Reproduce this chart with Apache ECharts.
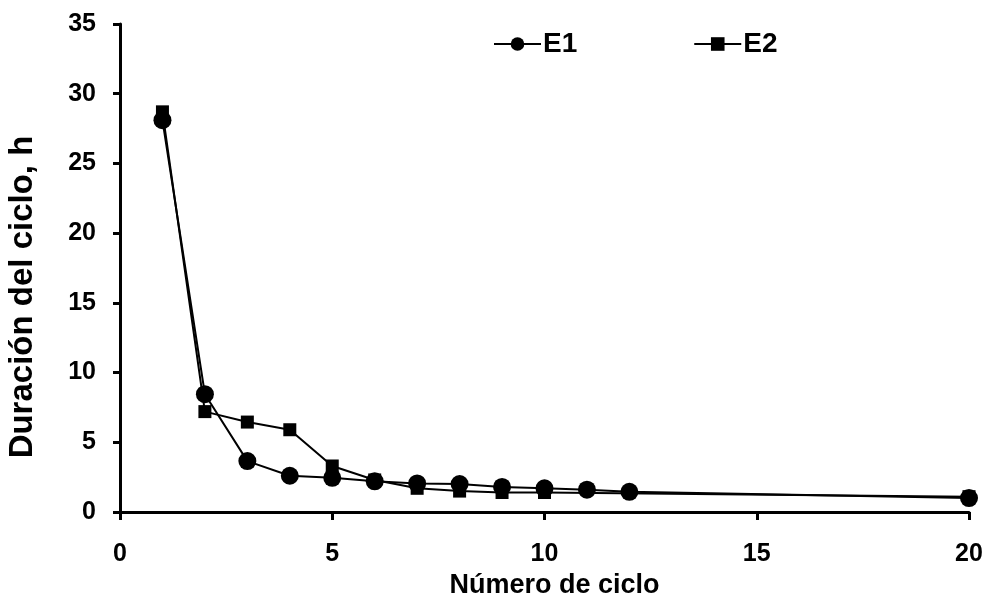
<!DOCTYPE html>
<html>
<head>
<meta charset="utf-8">
<script src="https://cdn.jsdelivr.net/npm/echarts@6/dist/echarts.min.js"></script>
<style>
  html, body { margin: 0; padding: 0; background: #fff; }
  #chart { width: 987px; height: 612px; }
</style>
</head>
<body>
<div id="chart"></div>
<script>
// Datos
const ciclosE1 = [1, 2, 3, 4, 5, 6, 7, 8, 9, 10, 11, 12, 20];
const duracionE1 = [28.1, 8.45, 3.65, 2.6, 2.45, 2.2, 2.05, 2.0, 1.8, 1.7, 1.6, 1.45, 1.0];
const ciclosE2 = [1, 2, 3, 4, 5, 6, 7, 8, 9, 10, 20];
const duracionE2 = [28.7, 7.2, 6.45, 5.9, 3.3, 2.3, 1.7, 1.5, 1.4, 1.4, 1.1];
const tituloX = 'Número de ciclo';
const tituloY = 'Duración del ciclo, h';

document.addEventListener('DOMContentLoaded', () => {
    const chart = echarts.init(document.getElementById('chart'));
    const fuente = 'Liberation Sans';

    const option = {
        backgroundColor: '#fff',
        animation: false,
        textStyle: { fontFamily: fuente },
        grid: { left: 120, right: 18, top: 24, bottom: 100 },
        legend: {
            top: 25,
            left: 488,
            itemGap: 116,
            itemWidth: 47,
            itemHeight: 17,
            textStyle: { fontFamily: fuente, fontWeight: 'bold', fontSize: 28, color: '#000', padding: [0, 0, 0, -3] },
            data: ['E1', 'E2']
        },
        // título del eje Y (desplazado hacia abajo como en el original)
        graphic: [{
            type: 'text',
            x: 23,
            y: 297,
            rotation: Math.PI / 2,
            style: {
                text: tituloY,
                font: 'bold 33px "Liberation Sans"',
                fill: '#000',
                align: 'center',
                verticalAlign: 'middle'
            }
        }],
        xAxis: {
            type: 'value',
            min: 0,
            max: 20,
            interval: 5,
            name: tituloX,
            nameLocation: 'middle',
            nameGap: 50,
            nameTextStyle: { fontFamily: fuente, fontWeight: 'bold', fontSize: 27, color: '#000', padding: [0, 0, 0, 20] },
            axisLine: { onZero: false, lineStyle: { color: '#000', width: 3 } },
            axisTick: { show: true, length: 8, lineStyle: { color: '#000', width: 3 } },
            axisLabel: { fontFamily: fuente, fontWeight: 'bold', fontSize: 25, color: '#000', margin: 30 },
            splitLine: { show: false }
        },
        yAxis: {
            type: 'value',
            min: 0,
            max: 35,
            interval: 5,
            axisLine: { show: true, lineStyle: { color: '#000', width: 3 } },
            axisTick: { show: true, length: 7, lineStyle: { color: '#000', width: 3 } },
            axisLabel: { fontFamily: fuente, fontWeight: 'bold', fontSize: 25, color: '#000', margin: 24 },
            splitLine: { show: false }
        },
        series: [
            {
                name: 'E1',
                type: 'line',
                data: ciclosE1.map((x, i) => [x, duracionE1[i]]),
                symbol: 'circle',
                symbolSize: 18,
                itemStyle: { color: '#000' },
                lineStyle: { color: '#000', width: 2 },
                z: 3
            },
            {
                name: 'E2',
                type: 'line',
                data: ciclosE2.map((x, i) => [x, duracionE2[i]]),
                symbol: 'rect',
                symbolSize: 13,
                itemStyle: { color: '#000' },
                lineStyle: { color: '#000', width: 2 },
                z: 2
            }
        ]
    };

    chart.setOption(option);
    window.addEventListener('resize', () => chart.resize());
});
</script>
</body>
</html>
